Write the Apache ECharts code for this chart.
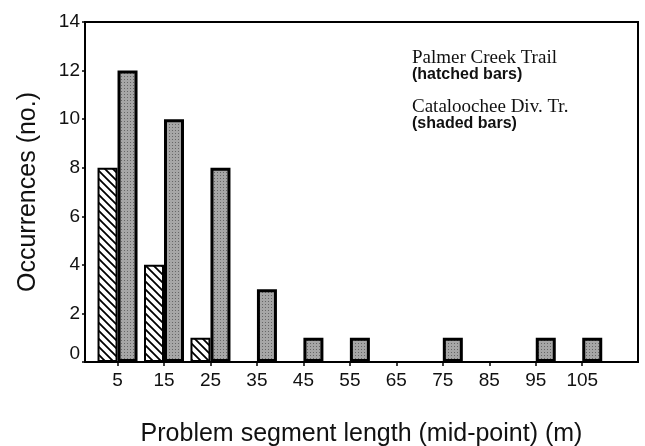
<!DOCTYPE html>
<html>
<head>
<meta charset="utf-8">
<script src="https://cdn.jsdelivr.net/npm/echarts@6/dist/echarts.min.js"></script>
<style>
  html, body { margin: 0; padding: 0; background: #fff; }
  #chart { width: 645px; height: 446px; }
</style>
</head>
<body>
<div id="chart"></div>
<script>
// segment mid-points (m)
const midPoints = [5, 15, 25, 35, 45, 55, 65, 75, 85, 95, 105]
// Palmer Creek Trail (hatched bars)
const palmerCounts = [8, 4, 1, 0, 0, 0, 0, 0, 0, 0, 0]
// Cataloochee Div. Tr. (shaded bars)
const catalCounts = [12, 10, 8, 3, 1, 1, 0, 1, 0, 1, 1]

// 斜线填充
const makeHatch = () => {
  const c = document.createElement('canvas')
  c.width = 8
  c.height = 8
  const ctx = c.getContext('2d')
  ctx.fillStyle = '#fff'
  ctx.fillRect(0, 0, 8, 8)
  ctx.strokeStyle = '#000'
  ctx.lineWidth = 1.8
  ctx.beginPath()
  ctx.moveTo(-2, -2); ctx.lineTo(10, 10)
  ctx.moveTo(-10, -2); ctx.lineTo(2, 10)
  ctx.moveTo(6, -2); ctx.lineTo(18, 10)
  ctx.stroke()
  return c
}

// 灰色点状填充
const makeStipple = () => {
  const c = document.createElement('canvas')
  c.width = 3
  c.height = 3
  const ctx = c.getContext('2d')
  ctx.fillStyle = '#a6a6a6'
  ctx.fillRect(0, 0, 3, 3)
  ctx.fillStyle = '#666'
  ctx.fillRect(1, 1, 1, 1)
  return c
}

const toPairs = (counts) =>
  midPoints.map((x, i) => [x, counts[i]]).filter(p => p[1] > 0)

const chart = echarts.init(document.getElementById('chart'))

const option = {
  animation: false,
  grid: {
    left: 85,
    top: 22,
    right: 7,
    bottom: 84,
    outerBoundsMode: 'none',
    show: true,
    borderColor: '#000',
    borderWidth: 2
  },
  xAxis: {
    type: 'value',
    min: -2,
    max: 117,
    name: 'Problem segment length (mid-point) (m)',
    nameLocation: 'middle',
    nameGap: 60,
    nameTextStyle: { fontFamily: 'Liberation Sans', fontSize: 25, color: '#111' },
    axisLine: { onZero: false, lineStyle: { color: '#000', width: 2 } },
    axisTick: { show: true, length: 4, customValues: midPoints, lineStyle: { color: '#000', width: 1.5 } },
    axisLabel: {
      customValues: midPoints,
      margin: 9,
      fontFamily: 'Liberation Sans',
      fontSize: 19,
      color: '#111'
    },
    splitLine: { show: false }
  },
  yAxis: {
    type: 'value',
    min: 0,
    max: 14,
    interval: 2,
    name: 'Occurrences (no.)',
    nameLocation: 'middle',
    nameGap: 44,
    nameTextStyle: { fontFamily: 'Liberation Sans', fontSize: 25, color: '#111' },
    axisLine: { onZero: false, lineStyle: { color: '#000', width: 2 } },
    axisTick: { show: true, length: 3, lineStyle: { color: '#000', width: 1.5 } },
    axisLabel: {
      margin: 5,
      fontFamily: 'Liberation Sans',
      fontSize: 19,
      color: '#111',
      formatter: (v) => (v === 0 ? '{z|0}' : String(v)),
      rich: {
        z: { fontFamily: 'Liberation Sans', fontSize: 19, color: '#111', padding: [0, 0, 17, 0] }
      }
    },
    splitLine: { show: false }
  },
  graphic: [
    { type: 'text', left: 412, top: 49, style: { text: 'Palmer Creek Trail', font: '19px "Liberation Serif"', fill: '#111' } },
    { type: 'text', left: 412, top: 67, style: { text: '(hatched bars)', font: 'bold 16px "Liberation Sans"', fill: '#111' } },
    { type: 'text', left: 412, top: 98, style: { text: 'Cataloochee Div. Tr.', font: '19px "Liberation Serif"', fill: '#111' } },
    { type: 'text', left: 412, top: 116, style: { text: '(shaded bars)', font: 'bold 16px "Liberation Sans"', fill: '#111' } }
  ],
  series: [
    {
      name: 'Palmer Creek Trail',
      type: 'bar',
      barWidth: 20,
      barGap: '0%',
      data: toPairs(palmerCounts),
      itemStyle: {
        color: { image: makeHatch(), repeat: 'repeat' },
        borderColor: '#000',
        borderWidth: 2
      }
    },
    {
      name: 'Cataloochee Div. Tr.',
      type: 'bar',
      barWidth: 20,
      barGap: '0%',
      data: toPairs(catalCounts),
      itemStyle: {
        color: { image: makeStipple(), repeat: 'repeat' },
        borderColor: '#000',
        borderWidth: 3
      }
    }
  ]
}

chart.setOption(option)
</script>
</body>
</html>
